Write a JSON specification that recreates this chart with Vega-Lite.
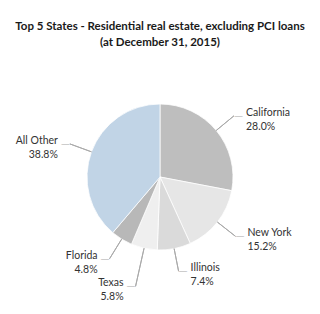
{
  "$schema": "https://vega.github.io/schema/vega-lite/v6.json",
  "width": 320,
  "height": 254,
  "autosize": {"type": "none"},
  "padding": {"left": 0, "right": 0, "top": 50, "bottom": 10},
  "background": "white",
  "title": {
    "text": ["Top 5 States - Residential real estate, excluding PCI loans", "(at December 31, 2015)"],
    "font": "Lato",
    "fontSize": 11.5,
    "fontWeight": "bold",
    "color": "#1a1a1a",
    "anchor": "middle",
    "lineHeight": 16,
    "offset": 2
  },
  "config": {"view": {"stroke": null}},
  "data": {
    "values": [
      {"state": "California", "share": 28.0, "order": 1, "label": "California\n28.0%"},
      {"state": "New York", "share": 15.2, "order": 2, "label": "New York\n15.2%"},
      {"state": "Illinois", "share": 7.4, "order": 3, "label": "Illinois\n7.4%"},
      {"state": "Texas", "share": 5.8, "order": 4, "label": "Texas\n5.8%"},
      {"state": "Florida", "share": 4.8, "order": 5, "label": "Florida\n4.8%"},
      {"state": "All Other", "share": 38.8, "order": 6, "label": "All Other\n38.8%"}
    ]
  },
  "encoding": {
    "theta": {"field": "share", "type": "quantitative", "stack": true},
    "order": {"field": "order", "type": "quantitative"},
    "detail": {"field": "state", "type": "nominal"}
  },
  "layer": [
    {
      "mark": {"type": "arc", "outerRadius": 73, "stroke": "white", "strokeWidth": 0.75},
      "encoding": {
        "color": {
          "field": "state",
          "type": "nominal",
          "scale": {
            "domain": ["California", "New York", "Illinois", "Texas", "Florida", "All Other"],
            "range": ["#bebebe", "#e6e6e6", "#dadada", "#efefef", "#b8b8b8", "#c1d4e6"]
          },
          "legend": null
        }
      }
    },
    {
      "mark": {"type": "arc", "innerRadius": 73, "outerRadius": 96, "padAngle": 3, "fillOpacity": 0, "stroke": "#aaaaaa", "strokeWidth": 1},
      "encoding": {
        "strokeOpacity": {"condition": {"test": "datum.state === 'Texas'", "value": 0}, "value": 1}
      }
    },
    {
      "mark": {"type": "arc", "innerRadius": 73, "outerRadius": 112, "padAngle": 3, "fillOpacity": 0, "stroke": "#aaaaaa", "strokeWidth": 1},
      "encoding": {
        "strokeOpacity": {"condition": {"test": "datum.state === 'Texas'", "value": 1}, "value": 0}
      }
    },
    {
      "mark": {"type": "text", "radius": 96, "align": "left", "baseline": "middle", "text": "—", "font": "DejaVu Sans", "fontSize": 9, "color": "#aaaaaa"},
      "encoding": {
        "opacity": {"condition": {"test": "indexof(['California','New York','Illinois'], datum.state) >= 0", "value": 1}, "value": 0}
      }
    },
    {
      "mark": {"type": "text", "radius": 96, "align": "right", "baseline": "middle", "text": "—", "font": "DejaVu Sans", "fontSize": 9, "color": "#aaaaaa"},
      "encoding": {
        "opacity": {"condition": {"test": "indexof(['Florida','All Other'], datum.state) >= 0", "value": 1}, "value": 0}
      }
    },
    {
      "mark": {"type": "text", "radius": 112, "align": "right", "baseline": "middle", "text": "—", "font": "DejaVu Sans", "fontSize": 9, "color": "#aaaaaa"},
      "encoding": {
        "opacity": {"condition": {"test": "datum.state === 'Texas'", "value": 1}, "value": 0}
      }
    },
    {
      "mark": {"type": "text", "radius": 96, "dx": 12, "dy": -3, "align": "left", "baseline": "middle", "lineBreak": "\n", "lineHeight": 14, "font": "Lato", "fontSize": 10.5, "color": "#333333"},
      "encoding": {
        "text": {"field": "label"},
        "opacity": {"condition": {"test": "indexof(['California','New York','Illinois'], datum.state) >= 0", "value": 1}, "value": 0}
      }
    },
    {
      "mark": {"type": "text", "radius": 96, "dx": -12, "dy": -3, "align": "right", "baseline": "middle", "lineBreak": "\n", "lineHeight": 14, "font": "Lato", "fontSize": 10.5, "color": "#333333"},
      "encoding": {
        "text": {"field": "label"},
        "opacity": {"condition": {"test": "indexof(['Florida','All Other'], datum.state) >= 0", "value": 1}, "value": 0}
      }
    },
    {
      "mark": {"type": "text", "radius": 112, "dx": -12, "dy": -3, "align": "right", "baseline": "middle", "lineBreak": "\n", "lineHeight": 14, "font": "Lato", "fontSize": 10.5, "color": "#333333"},
      "encoding": {
        "text": {"field": "label"},
        "opacity": {"condition": {"test": "datum.state === 'Texas'", "value": 1}, "value": 0}
      }
    }
  ]
}
